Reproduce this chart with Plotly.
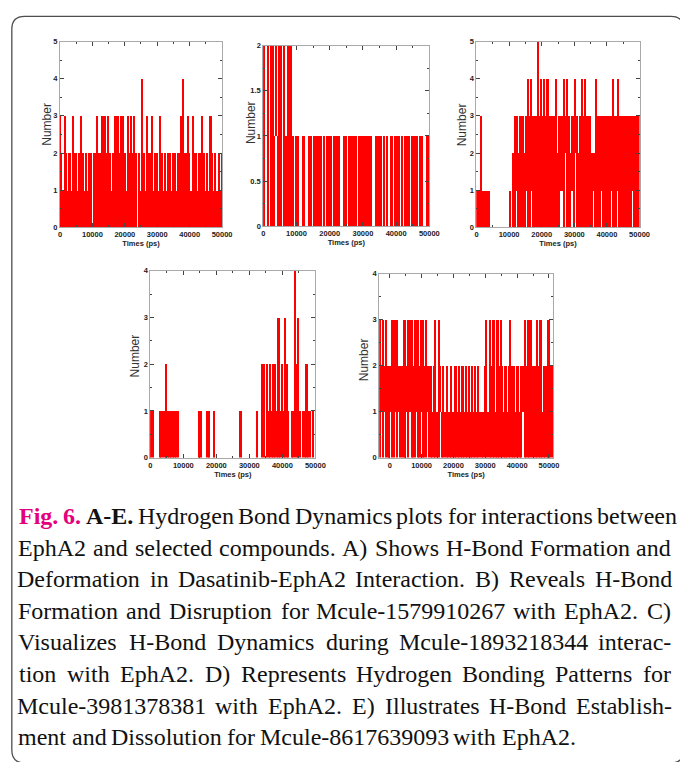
import plotly.graph_objects as go

W, H = 680, 762

# ---------------- data: H-bond count, min / max within each 500 ps window ----------------
T_ABCD = list(range(0, 50001, 500))          # 0 .. 50000 ps
T_E = list(range(-3000, 51001, 500))         # -3000 .. 51000 ps

A_MAX = [3, 2, 1, 3, 2, 1, 2, 1, 3, 2,
         2, 1, 2, 3, 2, 1, 2, 1, 2, 2,
         1, 2, 2, 3, 2, 2, 3, 3, 3, 2,
         3, 2, 1, 2, 3, 3, 3, 2, 3, 3,
         2, 1, 3, 2, 3, 2, 3, 2, 1, 2,
         1, 4, 2, 1, 3, 2, 2, 3, 1, 2,
         2, 1, 3, 2, 1, 2, 1, 2, 2, 1,
         2, 2, 1, 2, 2, 3, 4, 2, 2, 3,
         2, 1, 3, 2, 2, 1, 2, 2, 3, 2,
         1, 2, 1, 3, 2, 1, 2, 1, 2, 1,
         2]
A_MIN = [0, 0, 0, 0, 0, 0, 0, 0, 0, 0,
         0, 0, 0, 0, 0, 0, 0, 0, 0, 0,
         1, 0, 0, 0, 0, 0, 0, 0, 0, 0,
         0, 0, 0, 0, 0, 0, 0, 0, 0, 0,
         0, 0, 0, 0, 0, 0, 0, 0, 1, 0,
         0, 0, 0, 0, 0, 0, 0, 0, 0, 0,
         0, 0, 0, 0, 0, 0, 0, 0, 0, 0,
         0, 0, 0, 0, 0, 0, 0, 0, 0, 0,
         0, 0, 0, 0, 0, 0, 0, 0, 0, 0,
         0, 0, 0, 0, 0, 0, 0, 0, 0, 0,
         0]

B_MAX = [2, 2, 1, 2, 1, 2, 2, 1, 2, 1,
         2, 2, 1, 2, 1, 2, 2, 2, 1, 1,
         1, 1, 1, 1, 1, 1, 1, 1, 1, 1,
         1, 1, 1, 1, 1, 1, 1, 1, 1, 1,
         1, 1, 1, 1, 1, 1, 1, 1, 1, 1,
         1, 1, 1, 1, 1, 1, 1, 1, 1, 1,
         1, 1, 1, 1, 1, 1, 1, 1, 1, 1,
         1, 1, 1, 1, 1, 1, 1, 1, 1, 1,
         1, 1, 1, 1, 1, 1, 1, 1, 1, 1,
         1, 1, 1, 1, 1, 1, 1, 1, 1, 1,
         1]
B_MIN = [0, 0, 1, 0, 1, 0, 0, 0, 1, 0,
         0, 0, 1, 0, 0, 0, 0, 0, 0, 1,
         0, 0, 1, 1, 0, 0, 1, 1, 0, 0,
         1, 0, 0, 0, 0, 0, 1, 0, 1, 0,
         0, 0, 1, 0, 0, 0, 0, 1, 1, 0,
         0, 1, 0, 0, 0, 0, 0, 1, 0, 0,
         0, 0, 0, 0, 0, 0, 1, 1, 0, 0,
         0, 0, 1, 0, 1, 0, 1, 0, 0, 1,
         0, 0, 0, 1, 0, 1, 0, 0, 0, 1,
         0, 0, 0, 0, 1, 0, 0, 1, 1, 0,
         0]

C_MAX = [1, 1, 1, 3, 1, 1, 1, 1, 1, 0,
         0, 0, 0, 0, 0, 0, 0, 0, 0, 0,
         0, 1, 0, 2, 3, 3, 2, 3, 3, 3,
         2, 3, 4, 3, 4, 3, 3, 3, 5, 3,
         4, 3, 4, 3, 4, 3, 3, 3, 3, 4,
         2, 3, 3, 3, 4, 3, 4, 3, 2, 3,
         3, 4, 3, 2, 3, 4, 3, 4, 3, 3,
         3, 2, 2, 2, 4, 3, 3, 3, 3, 3,
         3, 3, 3, 3, 4, 3, 3, 4, 3, 3,
         3, 3, 3, 3, 3, 3, 3, 3, 3, 3,
         3]
C_MIN = [0, 0, 0, 0, 0, 0, 0, 0, 0, 0,
         0, 0, 0, 0, 0, 0, 0, 0, 0, 0,
         0, 0, 0, 0, 0, 1, 0, 0, 0, 0,
         0, 1, 0, 0, 1, 0, 0, 0, 0, 0,
         0, 0, 0, 0, 0, 0, 0, 0, 0, 0,
         0, 0, 1, 1, 0, 2, 0, 0, 0, 1,
         0, 2, 0, 0, 0, 0, 0, 0, 0, 0,
         0, 0, 1, 0, 0, 0, 0, 1, 0, 0,
         0, 0, 0, 1, 0, 0, 0, 1, 0, 0,
         0, 0, 0, 0, 0, 0, 1, 0, 0, 0,
         0]

D_MAX = [1, 1, 1, 0, 0, 0, 1, 1, 1, 1,
         2, 1, 1, 1, 1, 1, 1, 1, 0, 0,
         0, 0, 0, 0, 0, 0, 0, 0, 0, 0,
         1, 1, 0, 0, 0, 1, 1, 0, 0, 1,
         0, 0, 0, 0, 0, 0, 0, 0, 0, 0,
         0, 0, 0, 0, 0, 1, 0, 0, 0, 0,
         0, 0, 0, 0, 0, 1, 0, 0, 2, 2,
         0, 2, 1, 2, 1, 2, 2, 1, 3, 1,
         2, 1, 3, 2, 1, 0, 1, 1, 4, 2,
         3, 1, 0, 1, 1, 2, 1, 1, 0, 1,
         0]
D_MIN = [0] * 101

E_MAX = [3, 2, 3, 2, 3, 2, 2, 2, 3, 3,
         3, 3, 2, 2, 2, 3, 3, 2, 3, 3,
         3, 2, 3, 3, 3, 2, 3, 3, 2, 3,
         2, 2, 2, 1, 2, 3, 1, 3, 2, 1,
         2, 1, 2, 1, 1, 2, 1, 2, 2, 1,
         2, 1, 2, 1, 2, 1, 2, 1, 2, 1,
         2, 1, 2, 1, 1, 1, 2, 3, 1, 3,
         2, 3, 3, 1, 3, 2, 3, 2, 1, 2,
         1, 2, 3, 2, 2, 1, 2, 2, 1, 2,
         2, 3, 2, 3, 3, 3, 2, 2, 2, 3,
         2, 3, 1, 2, 2, 2, 3, 2, 2]
E_MIN = [0, 1, 0, 1, 0, 0, 0, 1, 0, 0,
         1, 0, 1, 0, 0, 0, 0, 1, 0, 1,
         0, 0, 0, 1, 0, 0, 1, 0, 0, 0,
         1, 0, 0, 0, 0, 0, 0, 0, 1, 0,
         0, 0, 0, 0, 0, 0, 0, 0, 0, 0,
         0, 0, 0, 0, 0, 0, 0, 0, 0, 0,
         0, 0, 0, 0, 0, 0, 0, 0, 0, 0,
         0, 0, 0, 0, 0, 0, 0, 0, 0, 0,
         0, 0, 0, 0, 0, 0, 0, 0, 0, 0,
         1, 0, 0, 0, 0, 0, 0, 0, 0, 0,
         0, 0, 0, 0, 0, 0, 0, 0, 0]

CAPTION_LINES = [
    "Fig. 6. A-E. Hydrogen Bond Dynamics plots for interactions between",
    "EphA2 and selected compounds. A) Shows H-Bond Formation and",
    "Deformation in Dasatinib-EphA2 Interaction. B) Reveals H-Bond",
    "Formation and Disruption for Mcule-1579910267 with EphA2. C)",
    "Visualizes H-Bond Dynamics during Mcule-1893218344 interac-",
    "tion with EphA2. D) Represents Hydrogen Bonding Patterns for",
    "Mcule-3981378381 with EphA2. E) Illustrates H-Bond Establish-",
    "ment and Dissolution for Mcule-8617639093 with EphA2.",
]

# ---------------- layout helpers ----------------
def px(x):
    return x / W


def py(y):
    return 1 - y / H


# panel boxes in pixels: (left, right, top, bottom); ytitle = pixel position of "Number"
PANELS = [
    dict(box=(59, 224, 38, 226), ytitle=(45, 122), t=T_ABCD, lo=A_MIN, hi=A_MAX,
         xr=[0, 50000], yr=[0, 5], dy=1, mdy=0.5),
    dict(box=(266, 435, 42, 225), ytitle=(253, 120), t=T_ABCD, lo=B_MIN, hi=B_MAX,
         xr=[0, 50000], yr=[0, 2], dy=0.5, mdy=0.25),
    dict(box=(483, 649, 38, 226), ytitle=(468, 122), t=T_ABCD, lo=C_MIN, hi=C_MAX,
         xr=[0, 50000], yr=[0, 5], dy=1, mdy=0.5),
    dict(box=(151, 319, 270, 459), ytitle=(135, 356), t=T_ABCD, lo=D_MIN, hi=D_MAX,
         xr=[0, 50000], yr=[0, 4], dy=1, mdy=0.5),
    dict(box=(384, 561, 273, 459), ytitle=(368, 360), t=T_E, lo=E_MIN, hi=E_MAX,
         xr=[-3300, 51300], yr=[0, 4], dy=1, mdy=0.5),
]

fig = go.Figure()
layout = dict(
    width=W, height=H, margin=dict(l=0, r=0, t=0, b=0),
    paper_bgcolor="white", plot_bgcolor="white", showlegend=False,
    barmode="overlay", bargap=0,
)

TICKFONT = dict(family="Liberation Sans", size=7.5, color="#222222", weight="bold")
FRAME = "#a9a9a9"
anns = []

for k, p in enumerate(PANELS, start=1):
    sfx = "" if k == 1 else str(k)
    fig.add_trace(go.Bar(
        x=p["t"], y=[b - a for a, b in zip(p["lo"], p["hi"])], base=p["lo"],
        width=500, xaxis="x" + sfx, yaxis="y" + sfx,
        marker=dict(color="#ff0000", line=dict(width=0)), hoverinfo="skip"))
    l, r, tp, bt = p["box"]
    layout["xaxis" + sfx] = dict(
        domain=[px(l), px(r)], range=p["xr"], anchor="y" + sfx,
        tick0=0, dtick=10000, tickformat="d", ticks="inside", ticklen=4, tickwidth=1,
        tickcolor="#444444",
        minor=dict(dtick=5000, ticks="inside", ticklen=2, tickcolor="#444444"),
        showline=True, linecolor=FRAME, linewidth=1, mirror="allticks",
        showgrid=False, zeroline=False, tickfont=TICKFONT,
        title=dict(text="Times (ps)", standoff=1,
                   font=dict(family="Liberation Sans", size=7.5, color="#222222", weight="bold")),
    )
    layout["yaxis" + sfx] = dict(
        domain=[py(bt), py(tp)], range=p["yr"], anchor="x" + sfx,
        tick0=0, dtick=p["dy"], ticks="inside", ticklen=4, tickwidth=1, tickcolor="#444444",
        minor=dict(dtick=p["mdy"], ticks="inside", ticklen=2, tickcolor="#444444"),
        showline=True, linecolor=FRAME, linewidth=1, mirror="allticks",
        showgrid=False, zeroline=False, tickfont=TICKFONT,
    )
    tx, ty = p["ytitle"]
    anns.append(dict(x=px(tx), y=py(ty), xref="paper", yref="paper", text="Number",
                     textangle=-90, showarrow=False, xanchor="center", yanchor="middle",
                     font=dict(family="Liberation Sans", size=12, color="#333333")))

# ---------------- caption (justified, word by word) ----------------
TNR = {" ": 250, ".": 250, ",": 250, "-": 333, "(": 333, ")": 333,
       "a": 444, "b": 500, "c": 444, "d": 500, "e": 444, "f": 333, "g": 500, "h": 500,
       "i": 278, "j": 278, "k": 500, "l": 278, "m": 778, "n": 500, "o": 500, "p": 500,
       "q": 500, "r": 333, "s": 389, "t": 278, "u": 500, "v": 500, "w": 722, "x": 500,
       "y": 500, "z": 444,
       "A": 722, "B": 667, "C": 667, "D": 722, "E": 611, "F": 556, "G": 722, "H": 722,
       "I": 333, "M": 889, "P": 556, "R": 667, "S": 556, "V": 722}
TNRB = {"F": 611, "E": 667, "A": 722}
SPECIAL = {"Fig.": ("#e4007c", True), "6.": ("#e4007c", True), "A-E.": ("#111111", True)}


def word_w(w, bold=False):
    tot = 0
    for ch in w:
        if ch.isdigit():
            tot += 500
        elif bold and ch in TNRB:
            tot += TNRB[ch]
        else:
            tot += TNR.get(ch, 500)
    return tot / 1000.0


EM = 24.0          # layout em (px)
FS = 24            # rendered size
X0 = 17
X1 = [686, 681, 681, 681, 681, 681, 681, 681]
LINE_Y = [518, 550, 582, 614, 646, 678, 710, 742]
SERIF = "Liberation Serif, Times New Roman, serif"

for li, line in enumerate(CAPTION_LINES):
    words = line.split(" ")
    styles = []
    for w in words:
        if li == 0 and w in SPECIAL:
            styles.append(SPECIAL[w])
        else:
            styles.append(("#111111", False))
    widths = [word_w(w, s[1]) * EM for w, s in zip(words, styles)]
    if li < len(CAPTION_LINES) - 1:
        gap = (X1[li] - X0 - sum(widths)) / (len(words) - 1)
    else:
        gap = 0.27 * EM
    x = X0
    for w, s, ww in zip(words, styles, widths):
        txt = "<b>%s</b>" % w if s[1] else w
        anns.append(dict(x=px(x + ww / 2), y=py(LINE_Y[li]), xref="paper", yref="paper",
                         text=txt, showarrow=False, xanchor="center", yanchor="middle",
                         font=dict(family=SERIF, size=FS, color=s[0])))
        x += ww + gap

layout["annotations"] = anns


# ---------------- rounded frame ----------------
def P(x, y):
    return "%f,%f" % (px(x), py(y))


L, R, T, B, RAD = 10, 694, 12.5, 768, 13
path = ("M " + P(L, B - RAD) + " L " + P(L, T + RAD) + " Q " + P(L, T) + " " + P(L + RAD, T) +
        " L " + P(R - RAD, T) + " Q " + P(R, T) + " " + P(R, T + RAD) +
        " L " + P(R, B - RAD) + " Q " + P(R, B) + " " + P(R - RAD, B) +
        " L " + P(L + RAD, B) + " Q " + P(L, B) + " " + P(L, B - RAD) + " Z")
layout["shapes"] = [dict(type="path", path=path, xref="paper", yref="paper",
                         line=dict(color="#4d4d4d", width=1.3), layer="above")]

fig.update_layout(**layout)
fig.write_html("out.html")
